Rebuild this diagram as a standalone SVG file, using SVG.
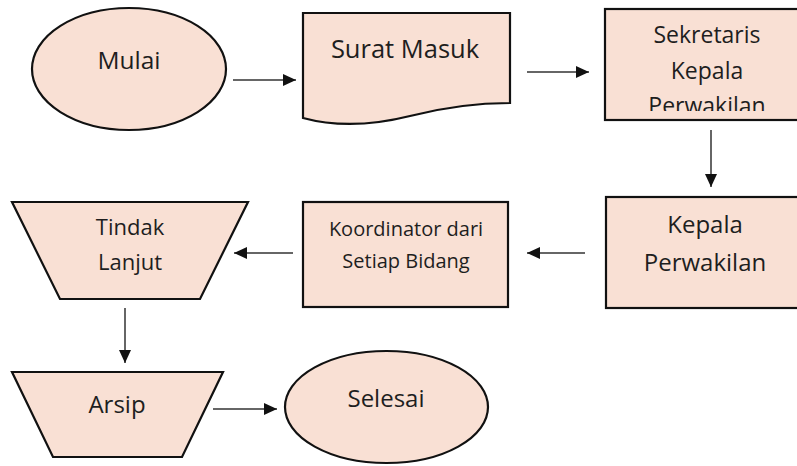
<svg xmlns="http://www.w3.org/2000/svg" width="797" height="466" viewBox="0 0 797 466">
<style>
.shape{fill:#F9E0D4;stroke:#111;stroke-width:2.2}
.t{font-family:"Open Sans","Noto Sans","DejaVu Sans",sans-serif;fill:#1e1e1e;text-anchor:middle}
.c{stroke:#333;stroke-width:1.5;fill:none;marker-end:url(#ah)}
</style>
<defs>
<marker id="ah" markerUnits="userSpaceOnUse" markerWidth="14" markerHeight="12" refX="13" refY="6" orient="auto">
<path d="M0,0 L13,6 L0,12 Z" fill="#111"/>
</marker>
<clipPath id="clipSek"><rect x="600" y="0" width="197" height="111"/></clipPath>
</defs>
<rect width="797" height="466" fill="#fff"/>
<g id="mulai">
<ellipse class="shape" cx="129" cy="69" rx="97" ry="61"/>
<text class="t" x="129" y="69" font-size="24.5">Mulai</text>
</g>
<g id="surat-masuk">
<path class="shape" d="M303,13 H510 V103 C475,103 445,107 410,116 C378,124 340,128 303,118 Z"/>
<text class="t" x="405" y="58" font-size="25.5">Surat Masuk</text>
</g>
<g id="sekretaris">
<rect class="shape" x="605" y="9" width="200" height="111"/>
<g clip-path="url(#clipSek)">
<text class="t" x="707" y="43" font-size="23">Sekretaris</text>
<text class="t" x="707" y="79" font-size="23">Kepala</text>
<text class="t" x="707" y="114" font-size="23">Perwakilan</text>
</g>
</g>
<g id="kepala-perwakilan">
<rect class="shape" x="606" y="197" width="200" height="111"/>
<text class="t" x="705" y="233" font-size="24">Kepala</text>
<text class="t" x="705" y="271" font-size="24">Perwakilan</text>
</g>
<g id="koordinator">
<rect class="shape" x="303" y="202" width="205" height="105"/>
<text class="t" x="406" y="236" font-size="20">Koordinator dari</text>
<text class="t" x="406" y="268" font-size="20">Setiap Bidang</text>
</g>
<g id="tindak-lanjut">
<path class="shape" d="M12,202 H248 L200,299 H60 Z"/>
<text class="t" x="130" y="235" font-size="22">Tindak</text>
<text class="t" x="130" y="270" font-size="22">Lanjut</text>
</g>
<g id="arsip">
<path class="shape" d="M12,372 H223 L182,457 H53 Z"/>
<text class="t" x="117" y="413" font-size="24">Arsip</text>
</g>
<g id="selesai">
<ellipse class="shape" cx="386.5" cy="407" rx="101.5" ry="56"/>
<text class="t" x="386" y="407" font-size="24">Selesai</text>
</g>
<g id="connectors">
<line class="c" x1="233" y1="80" x2="296" y2="80"/>
<line class="c" x1="527" y1="72" x2="589" y2="72"/>
<line class="c" x1="711" y1="130" x2="711" y2="187"/>
<line class="c" x1="585" y1="253" x2="527" y2="253"/>
<line class="c" x1="293" y1="253" x2="234" y2="253"/>
<line class="c" x1="125" y1="308" x2="125" y2="363"/>
<line class="c" x1="213" y1="409" x2="277" y2="409"/>
</g>
</svg>
